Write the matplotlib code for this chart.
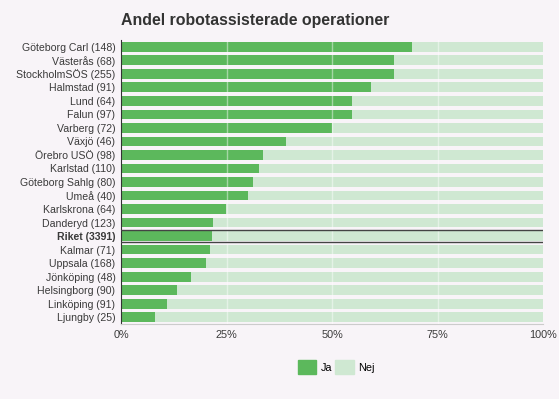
import matplotlib
matplotlib.use('Agg')
import matplotlib.pyplot as plt
import numpy as np
from matplotlib.patches import Patch

plt.rcParams['font.family'] = ['Liberation Sans', 'DejaVu Sans']

labels = ['Göteborg Carl (148)', 'Västerås (68)', 'StockholmSÖS (255)', 'Halmstad (91)',
          'Lund (64)', 'Falun (97)', 'Varberg (72)', 'Växjö (46)', 'Örebro USÖ (98)',
          'Karlstad (110)', 'Göteborg Sahlg (80)', 'Umeå (40)', 'Karlskrona (64)',
          'Danderyd (123)', 'Riket (3391)', 'Kalmar (71)', 'Uppsala (168)',
          'Jönköping (48)', 'Helsingborg (90)', 'Linköping (91)', 'Ljungby (25)']
ja = [69.0, 64.7, 64.7, 59.2, 54.7, 54.7, 50.0, 39.0, 33.6, 32.7, 31.3, 30.0,
      24.9, 21.8, 21.6, 21.1, 20.1, 16.6, 13.3, 10.9, 8.0]
nej = [100 - v for v in ja]
ticks = [0, 25, 50, 75, 100]
tick_labels = ['0%', '25%', '50%', '75%', '100%']

bg = '#f8f4f8'
c_ja = '#5cb85c'
c_nej = '#cfe8d2'
txt = '#3a3a3a'

fig = plt.figure(figsize=(5.59, 3.99), dpi=100, facecolor=bg)
ax = fig.add_axes([121 / 559, 1 - 324 / 399, 422 / 559, 284 / 399])
ax.set_facecolor(bg)

y = np.arange(len(labels))
ax.barh(y, ja, height=0.72, color=c_ja, zorder=2)
ax.barh(y, nej, left=ja, height=0.72, color=c_nej, zorder=2)

for t in ticks[1:-1]:
    ax.axvline(t, color='white', lw=1.0, alpha=0.45, zorder=3)

ri = labels.index('Riket (3391)')
for off in (-0.45, 0.45):
    ax.axhline(ri + off, color='#444444', lw=1.0, zorder=4)

ax.set_ylim(len(labels) - 0.5, -0.5)
ax.set_xlim(0, 100)
ax.set_yticks(y)
ax.set_yticklabels(labels, fontsize=7.6, color=txt)
for lab in ax.get_yticklabels():
    if lab.get_text().startswith('Riket'):
        lab.set_fontweight('bold')
ax.set_xticks(ticks)
ax.set_xticklabels(tick_labels, fontsize=7.8, color=txt)
ax.tick_params(length=0, pad=4)

for s in ['top', 'right']:
    ax.spines[s].set_visible(False)
ax.spines['left'].set_color('#333333')
ax.spines['bottom'].set_color('#cccccc')

fig.text(121 / 559, 1 - 21 / 399, 'Andel robotassisterade operationer',
         fontsize=11.4, fontweight='bold', color='#333333', va='center')

handles = [Patch(color=c_ja, label='Ja'), Patch(color=c_nej, label='Nej')]
fig.legend(handles=handles, loc='center', bbox_to_anchor=(336 / 559, 1 - 367 / 399),
           ncol=2, frameon=False, fontsize=7.8, handlelength=1.7, handleheight=1.7,
           handletextpad=0.4, columnspacing=0.3)

fig.savefig('out.png', dpi=100, facecolor=bg)
